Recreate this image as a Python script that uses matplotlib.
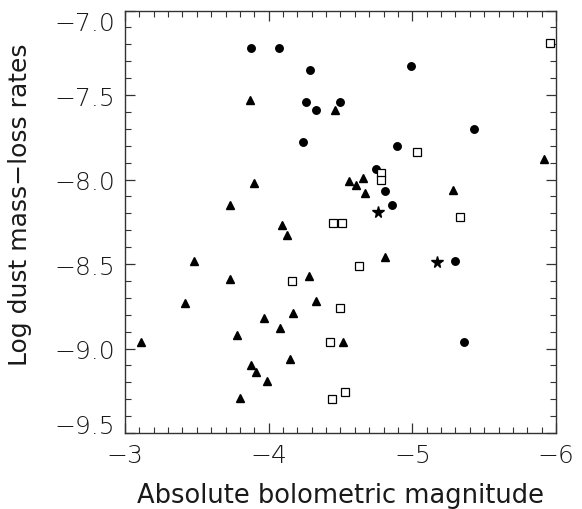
import matplotlib
matplotlib.use("Agg")
import matplotlib.pyplot as plt
from matplotlib.ticker import MultipleLocator

# filled circles
circ_mag = [-3.88, -4.07, -4.29, -4.26, -4.33, -4.50, -4.24, -4.99, -5.43,
            -4.89, -4.75, -4.81, -4.86, -5.30, -5.36]
circ_rate = [-7.22, -7.22, -7.35, -7.54, -7.59, -7.54, -7.78, -7.33, -7.70,
             -7.80, -7.94, -8.07, -8.15, -8.48, -8.96]

# filled triangles
tri_mag = [-3.87, -4.46, -3.90, -3.73, -4.09, -4.13, -5.92, -4.56, -4.61,
           -4.66, -4.67, -5.28, -3.48, -3.73, -4.28, -3.42, -4.33, -4.17,
           -3.97, -4.08, -3.11, -3.78, -4.15, -3.88, -3.91, -3.99, -3.80,
           -4.81, -4.52]
tri_rate = [-7.53, -7.59, -8.02, -8.15, -8.27, -8.33, -7.88, -8.01, -8.03,
            -7.99, -8.08, -8.06, -8.48, -8.59, -8.57, -8.73, -8.72, -8.79,
            -8.82, -8.88, -8.96, -8.92, -9.06, -9.10, -9.14, -9.19, -9.29,
            -8.46, -8.96]

# open squares
sq_mag = [-5.96, -4.45, -4.51, -5.03, -4.78, -4.78, -5.33, -4.16, -4.50,
          -4.43, -4.44, -4.53, -4.63]
sq_rate = [-7.19, -8.26, -8.26, -7.84, -7.96, -8.00, -8.22, -8.60, -8.76,
           -8.96, -9.30, -9.26, -8.51]

# stars
star_mag = [-4.76, -5.17]
star_rate = [-8.19, -8.49]

fs = 18
plt.rcParams['font.family'] = ['DejaVu Sans']
plt.rcParams['font.weight'] = 'light'

fig = plt.figure(figsize=(5.82, 5.10), dpi=100)
ax = fig.add_axes([0.2148, 0.149, 0.7405, 0.8284])

ax.plot(circ_mag, circ_rate, 'o', ms=5.4, color='k', mec='k', ls='none')
ax.plot(tri_mag, tri_rate, '^', ms=5.2, color='k', mec='k', ls='none')
ax.plot(sq_mag, sq_rate, 's', ms=5.4, mfc='white', mec='k', mew=0.9, ls='none')
ax.plot(star_mag, star_rate, '*', ms=8.5, color='k', mec='k', ls='none')

ax.set_xlim(-3, -6)
ax.set_ylim(-9.5, -7.0)

ax.xaxis.set_major_locator(MultipleLocator(1))
ax.xaxis.set_minor_locator(MultipleLocator(0.1))
ax.yaxis.set_major_locator(MultipleLocator(0.5))
ax.yaxis.set_minor_locator(MultipleLocator(0.1))
ax.yaxis.set_major_formatter(plt.FuncFormatter(lambda v, p: f"{v:.1f}".replace('-', '\u2212')))
ax.xaxis.set_major_formatter(plt.FuncFormatter(lambda v, p: f"{v:.0f}".replace('-', '\u2212')))

ax.tick_params(which='both', direction='in', top=True, right=True, color='#333333')
ax.tick_params(which='major', length=7, width=0.9, labelsize=fs, labelcolor='#1a1a1a')
ax.tick_params(which='minor', length=4, width=0.8)
ax.tick_params(axis='x', which='major', pad=7)
ax.tick_params(axis='y', which='major', pad=7)

for spine in ax.spines.values():
    spine.set_color('#333333')
    spine.set_linewidth(1.0)

# IDL-style: end labels on the y axis pulled inside the frame
fig.canvas.draw()
for t in ax.yaxis.get_major_ticks():
    if abs(t.get_loc() + 7.0) < 1e-6:
        t.label1.set_va('top')
    elif abs(t.get_loc() + 9.5) < 1e-6:
        t.label1.set_va('baseline')

ax.set_xlabel('Absolute bolometric magnitude', fontsize=18.5, color='#1a1a1a')
ax.set_ylabel('Log dust mass\u2212loss rates', fontsize=fs, color='#1a1a1a')
ax.xaxis.set_label_coords(0.5, -0.147)
ax.xaxis.label.set_va('center')
ax.yaxis.set_label_coords(-0.244, 0.542)
ax.yaxis.label.set_va('center')

fig.savefig('out.png', dpi=100)
